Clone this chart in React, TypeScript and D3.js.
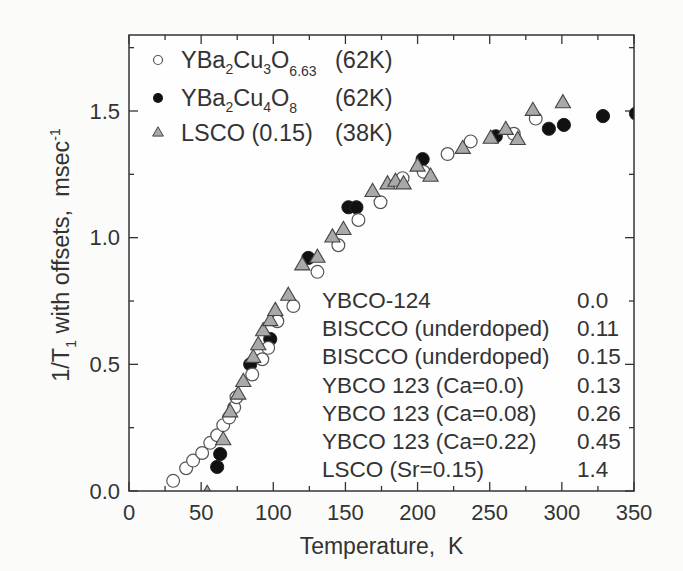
import React, { useEffect, useRef } from 'react';
import * as d3 from 'd3';

// YBa2Cu3O6.63 (open circles): [T (K), 1/T1 with offset]
const ybco123: [number, number][] = [
  [30.6, 0.04], [39.6, 0.09], [44.4, 0.12], [50.7, 0.15], [56.3, 0.19],
  [61.1, 0.22], [65.3, 0.26], [69.4, 0.29], [72.9, 0.33], [74.5, 0.37],
  [85.4, 0.46], [92.4, 0.52], [96.5, 0.565], [102.8, 0.67], [113.9, 0.73],
  [130.6, 0.865], [145.1, 0.97], [159, 1.07], [174.3, 1.14], [189.6, 1.235],
  [204.2, 1.26], [220.8, 1.33], [236.8, 1.38], [266.7, 1.41], [281.9, 1.47],
];

// YBa2Cu4O8 (filled circles)
const ybco124: [number, number][] = [
  [61.1, 0.095], [63.2, 0.146], [84, 0.5], [97.9, 0.6], [101.4, 0.69],
  [124.3, 0.92], [152.1, 1.12], [157.6, 1.12], [203.5, 1.31], [254.2, 1.4],
  [291, 1.43], [301.4, 1.445], [328.5, 1.48], [351.4, 1.49],
];

// LSCO (0.15) (grey triangles)
const lsco: [number, number][] = [
  [54.2, -0.012], [65.3, 0.2], [70.1, 0.31], [75.7, 0.38], [79.2, 0.43],
  [86.1, 0.525], [89.6, 0.575], [93, 0.63], [97.9, 0.67], [101.4, 0.71],
  [110.4, 0.77], [120.1, 0.89], [130.6, 0.92], [141, 1.0], [148.6, 1.03],
  [168.8, 1.18], [179.2, 1.21], [184.7, 1.22], [190.3, 1.21], [200, 1.28],
  [209, 1.24], [231.3, 1.35], [250.7, 1.39], [261.1, 1.425], [269.4, 1.385],
  [279.9, 1.5], [300.7, 1.53],
];

const xTicks = [0, 50, 100, 150, 200, 250, 300, 350];
const yTicks = [0, 0.5, 1.0, 1.5];

const sampleNames = [
  'YBCO-124',
  'BISCCO (underdoped)',
  'BISCCO (underdoped)',
  'YBCO 123 (Ca=0.0)',
  'YBCO 123 (Ca=0.08)',
  'YBCO 123 (Ca=0.22)',
  'LSCO  (Sr=0.15)',
];
const sampleOffsets = ['0.0', '0.11', '0.15', '0.13', '0.26', '0.45', '1.4'];

const W = 683;
const H = 571;
const FONT = '"Liberation Sans", Arial, Helvetica, sans-serif';
const INK = '#333';

const App: React.FC = () => {
  const svgRef = useRef<SVGSVGElement>(null);

  useEffect(() => {
    if (!svgRef.current) return;
    const svg = d3.select(svgRef.current);
    svg.selectAll('*').remove();

    const margin = { top: 35, right: 49, bottom: 80, left: 129 };
    const width = W - margin.left - margin.right;
    const height = H - margin.top - margin.bottom;

    svg.append('rect').attr('width', W).attr('height', H).attr('fill', '#fbfcfa');

    const x = d3.scaleLinear().domain([0, 350]).range([0, width]);
    const y = d3.scaleLinear().domain([0, 1.8]).range([height, 0]);

    svg.append('defs').append('clipPath').attr('id', 'plot-clip')
      .append('rect').attr('width', width).attr('height', height);

    const g = svg.append('g').attr('transform', `translate(${margin.left},${margin.top})`);
    g.append('rect').attr('width', width).attr('height', height).attr('fill', '#fefefe');

    // ticks, inward on all four sides
    const xMinor = d3.range(0, 351, 25);
    const yMinor = d3.range(0, 1.81, 0.25);
    const tickG = g.append('g').attr('stroke', INK).attr('stroke-width', 1.3);
    xMinor.forEach(v => {
      const len = v % 50 === 0 ? 9 : 5;
      tickG.append('line').attr('x1', x(v)).attr('x2', x(v)).attr('y1', height).attr('y2', height - len);
      tickG.append('line').attr('x1', x(v)).attr('x2', x(v)).attr('y1', 0).attr('y2', len);
    });
    yMinor.forEach(v => {
      const len = Math.round(v * 100) % 50 === 0 ? 9 : 5;
      tickG.append('line').attr('y1', y(v)).attr('y2', y(v)).attr('x1', 0).attr('x2', len);
      tickG.append('line').attr('y1', y(v)).attr('y2', y(v)).attr('x1', width).attr('x2', width - len);
    });

    // tick labels
    g.selectAll('.xl').data(xTicks).enter().append('text')
      .attr('x', d => x(d)).attr('y', height + 29)
      .attr('text-anchor', 'middle')
      .attr('font-family', FONT).attr('font-size', 22).attr('fill', INK)
      .text(d => d3.format('d')(d));
    g.selectAll('.yl').data(yTicks).enter().append('text')
      .attr('x', -9).attr('y', d => y(d) + 7.5)
      .attr('text-anchor', 'end')
      .attr('font-family', FONT).attr('font-size', 22).attr('fill', INK)
      .text(d => d3.format('.1f')(d));

    // data
    const pts = g.append('g').attr('clip-path', 'url(#plot-clip)');
    pts.selectAll('.filled').data(ybco124).enter().append('circle')
      .attr('cx', d => x(d[0])).attr('cy', d => y(d[1])).attr('r', 6.6)
      .attr('fill', '#111').attr('stroke', '#222').attr('stroke-width', 1);
    pts.selectAll('.open').data(ybco123).enter().append('circle')
      .attr('cx', d => x(d[0])).attr('cy', d => y(d[1])).attr('r', 6.4)
      .attr('fill', '#fff').attr('stroke', '#555').attr('stroke-width', 1.2);
    const tri = d3.symbol().type(d3.symbolTriangle).size(100);
    pts.selectAll('.tri').data(lsco).enter().append('path')
      .attr('transform', d => `translate(${x(d[0])},${y(d[1])})`)
      .attr('d', tri)
      .attr('fill', '#a9a9a9').attr('stroke', '#444').attr('stroke-width', 1.1);

    // frame
    g.append('rect').attr('width', width).attr('height', height)
      .attr('fill', 'none').attr('stroke', INK).attr('stroke-width', 1.5);

    // legend
    const leg = g.append('g').attr('font-family', FONT).attr('font-size', 23.5).attr('fill', INK);
    const lx = 158 - margin.left;
    const rows = [60, 98, 133].map(v => v - margin.top);
    leg.append('circle').attr('cx', lx).attr('cy', rows[0]).attr('r', 4.5)
      .attr('fill', '#fff').attr('stroke', '#555').attr('stroke-width', 1.2);
    leg.append('circle').attr('cx', lx).attr('cy', rows[1]).attr('r', 5)
      .attr('fill', '#111');
    leg.append('path').attr('transform', `translate(${lx},${rows[2]})`)
      .attr('d', d3.symbol().type(d3.symbolTriangle).size(50)())
      .attr('fill', '#a9a9a9').attr('stroke', '#444').attr('stroke-width', 1);

    const tx = 181 - margin.left;
    const sub = 14;
    const t1 = leg.append('text').attr('x', tx).attr('y', rows[0] + 8);
    t1.append('tspan').text('YBa');
    t1.append('tspan').attr('font-size', sub).attr('dy', 6).text('2');
    t1.append('tspan').attr('dy', -6).text('Cu');
    t1.append('tspan').attr('font-size', sub).attr('dy', 6).text('3');
    t1.append('tspan').attr('dy', -6).text('O');
    t1.append('tspan').attr('font-size', sub).attr('dy', 8).text('6.63');
    const t2 = leg.append('text').attr('x', tx).attr('y', rows[1] + 8);
    t2.append('tspan').text('YBa');
    t2.append('tspan').attr('font-size', sub).attr('dy', 6).text('2');
    t2.append('tspan').attr('dy', -6).text('Cu');
    t2.append('tspan').attr('font-size', sub).attr('dy', 6).text('4');
    t2.append('tspan').attr('dy', -6).text('O');
    t2.append('tspan').attr('font-size', sub).attr('dy', 7).text('8');
    leg.append('text').attr('x', tx).attr('y', rows[2] + 8).text('LSCO (0.15)');
    const px = 335 - margin.left;
    leg.append('text').attr('x', px).attr('y', rows[0] + 8).text('(62K)');
    leg.append('text').attr('x', px).attr('y', rows[1] + 8).text('(62K)');
    leg.append('text').attr('x', px).attr('y', rows[2] + 8).text('(38K)');

    // offsets table
    const tab = g.append('g').attr('font-family', FONT).attr('font-size', 22.5).attr('fill', INK)
      .style('white-space', 'pre');
    sampleNames.forEach((name, i) => {
      const by = 308 + i * 28.2 - margin.top;
      tab.append('text').attr('x', 322 - margin.left).attr('y', by).text(name);
      tab.append('text').attr('x', 577 - margin.left).attr('y', by).text(sampleOffsets[i]);
    });

    // axis titles
    svg.append('text')
      .attr('x', margin.left + width / 2).attr('y', 554)
      .attr('text-anchor', 'middle')
      .attr('font-family', FONT).attr('font-size', 23).attr('fill', INK)
      .style('white-space', 'pre')
      .text('Temperature,  K');

    const yl = svg.append('text')
      .attr('transform', 'translate(69,255) rotate(-90)')
      .attr('text-anchor', 'middle')
      .attr('font-family', FONT).attr('font-size', 23.5).attr('fill', INK)
      .style('white-space', 'pre');
    yl.append('tspan').text('1/T');
    yl.append('tspan').attr('font-size', 14).attr('dy', 7).text('1');
    yl.append('tspan').attr('dy', -7).text(' with offsets,  msec');
    yl.append('tspan').attr('font-size', 14).attr('dy', -9).text('-1');
  }, []);

  return (
    <svg
      ref={svgRef}
      width={W}
      height={H}
      style={{ position: 'absolute', left: 0, top: 0, display: 'block' }}
    />
  );
};

export default App;
